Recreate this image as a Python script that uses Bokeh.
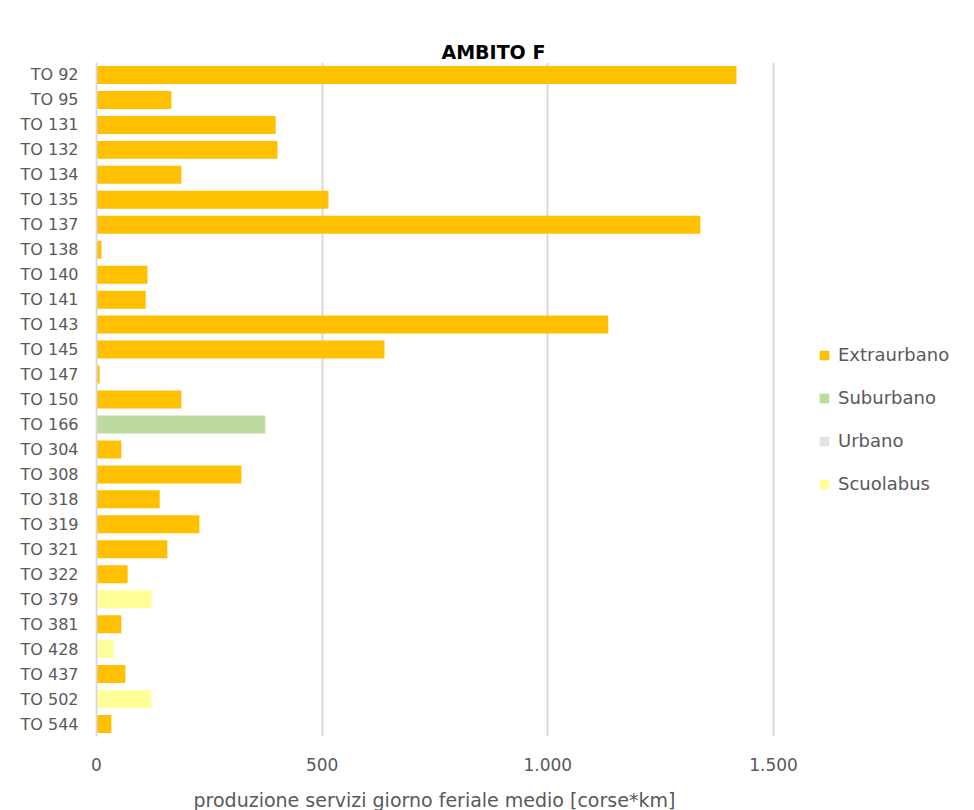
from bokeh.plotting import figure
from bokeh.models import FactorRange, FixedTicker, Legend, LegendItem, Title
from bokeh.embed import file_html
from bokeh.resources import INLINE

categories = ["TO 92", "TO 95", "TO 131", "TO 132", "TO 134", "TO 135", "TO 137", "TO 138",
              "TO 140", "TO 141", "TO 143", "TO 145", "TO 147", "TO 150", "TO 166", "TO 304",
              "TO 308", "TO 318", "TO 319", "TO 321", "TO 322", "TO 379", "TO 381", "TO 428",
              "TO 437", "TO 502", "TO 544"]
extraurbano = [1418, 166, 397, 401, 188, 514, 1338, 11, 113, 109, 1134, 638, 7, 188, 0, 55,
               321, 140, 228, 157, 69, 0, 55, 0, 64, 0, 33]
suburbano = [0]*14 + [374] + [0]*12
urbano = [0]*27
scuolabus = [0]*21 + [122, 0, 38, 0, 122, 0]
series_names = ["Extraurbano", "Suburbano", "Urbano", "Scuolabus"]
series_colors = ["#FFC000", "#BDDBA0", "#E3E3E3", "#FFFF99"]
x_ticks = [0, 500, 1000, 1500]
x_tick_labels = ["0", "500", "1.000", "1.500"]

FONT = "DejaVu Sans"
GREY = "#595959"

# plot area: the axis part spans 677 px for 0..1500, the frame continues to the right
# to hold the legend
AXIS_PX = 677
FRAME_W = 862
x_end = 1500 * FRAME_W / AXIS_PX

data = {"cat": categories, "Extraurbano": extraurbano, "Suburbano": suburbano,
        "Urbano": urbano, "Scuolabus": scuolabus}

p = figure(frame_width=FRAME_W, frame_height=674, output_backend="svg", toolbar_location=None,
           y_range=FactorRange(factors=list(reversed(categories))),
           x_range=(0, x_end), title=None,
           min_border_left=96, min_border_right=0, min_border_top=62, min_border_bottom=0)
p.outline_line_color = None

rs = p.hbar_stack(series_names, y="cat", height=0.72, source=data,
                  color=series_colors, line_width=0)

# the title, then a spacer between it and the frame
title = Title(text="AMBITO F", align="left", text_font=FONT, text_font_size="19px",
              text_font_style="bold", text_color="#000000", offset=345, standoff=0)
p.add_layout(title, "above")
spacer = Title(text=" ", text_font_size="1px", standoff=26, text_color=None)
p.add_layout(spacer, "above")

p.xaxis.ticker = FixedTicker(ticks=x_ticks)
p.xaxis.major_label_overrides = {t: l for t, l in zip(x_ticks, x_tick_labels)}
p.xaxis.axis_line_color = None
p.xaxis.major_tick_line_color = None
p.xaxis.minor_tick_line_color = None
p.xaxis.major_tick_out = 0
p.xaxis.major_tick_in = 0
p.xaxis.minor_tick_out = 0
p.xaxis.major_label_text_font = FONT
p.xaxis.major_label_text_font_size = "17px"
p.xaxis.major_label_text_color = GREY
p.xaxis.major_label_standoff = 21

xlabel = Title(text="produzione servizi giorno feriale medio [corse*km]", align="left",
               text_font=FONT, text_font_size="19px", text_font_style="normal",
               text_color=GREY, offset=97, standoff=26, text_line_height=1.0)
p.add_layout(xlabel, "below")

p.yaxis.axis_line_color = "#D9D9D9"
p.yaxis.axis_line_width = 2
p.yaxis.major_tick_line_color = None
p.yaxis.minor_tick_line_color = None
p.yaxis.major_tick_out = 0
p.yaxis.major_tick_in = 0
p.yaxis.major_label_text_font = FONT
p.yaxis.major_label_text_font_size = "16px"
p.yaxis.major_label_text_color = GREY
p.yaxis.major_label_standoff = 18

p.ygrid.grid_line_color = None
p.xgrid.grid_line_color = "#D9D9D9"
p.xgrid.grid_line_width = 2

legend = Legend(items=[LegendItem(label=n, renderers=[r]) for n, r in zip(series_names, rs)],
                location=(722, 242), border_line_color=None, background_fill_alpha=0,
                label_text_font=FONT, label_text_font_size="18px", label_text_color=GREY,
                glyph_width=12, glyph_height=12, label_standoff=8, spacing=22,
                padding=0, margin=0, label_height=20)
p.add_layout(legend)

open("out.html", "w").write(file_html(p, INLINE))
